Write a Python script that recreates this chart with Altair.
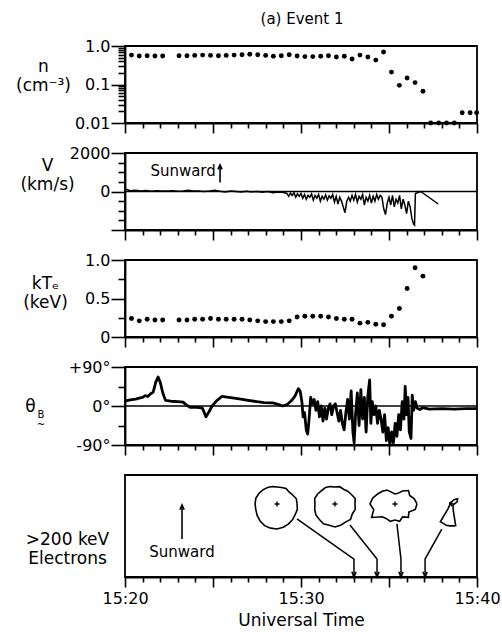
import altair as alt
import pandas as pd
import numpy as np

FONT = "DejaVu Sans"
PLOT_W = 352
PX_PER_MIN = PLOT_W / 20.0
H5 = 102

# ---------------- data (time = minutes after 15:20 UT) ----------------
n_times = [0.37, 0.81, 1.26, 1.70, 2.14,
           3.07, 3.52, 3.96, 4.41, 4.86, 5.31, 5.75, 6.20, 6.65, 7.09,
           7.54, 7.99, 8.43, 8.88, 9.33, 9.78, 10.22, 10.67, 11.12, 11.56,
           12.01, 12.46, 12.90, 13.35, 13.80, 14.25, 14.69, 15.14, 15.59, 16.03,
           16.48, 16.93, 17.37, 17.82, 18.27, 18.71, 19.16, 19.61, 19.98]
n_values = [0.58, 0.55, 0.56, 0.55, 0.55,
            0.56, 0.56, 0.57, 0.58, 0.57, 0.56, 0.57, 0.58, 0.59, 0.61,
            0.59, 0.57, 0.54, 0.56, 0.59, 0.55, 0.53, 0.53, 0.54, 0.56,
            0.52, 0.54, 0.46, 0.58, 0.52, 0.43, 0.70, 0.21, 0.095, 0.148,
            0.112, 0.067, 0.01, 0.01, 0.01, 0.01, 0.0185, 0.0185, 0.0185]

kt_times = n_times[:37]
kt_values = [0.24, 0.21, 0.23, 0.22, 0.22,
             0.22, 0.22, 0.23, 0.23, 0.24, 0.23, 0.23, 0.23, 0.23, 0.22,
             0.21, 0.20, 0.20, 0.20, 0.21, 0.26, 0.27, 0.27, 0.27, 0.26,
             0.24, 0.23, 0.23, 0.18, 0.19, 0.165, 0.16, 0.27, 0.37, 0.63,
             0.90, 0.79]

v_times = [0.05, 0.3, 0.6, 0.9, 1.2, 1.5, 1.8, 2.1, 2.4, 2.7, 3.0, 3.3, 3.6, 3.9,
           4.2, 4.5, 4.8, 5.1, 5.4, 5.7, 6.0, 6.3, 6.6, 6.9, 7.2, 7.5, 7.8, 8.1,
           8.4, 8.7, 9.0,
           9.2, 9.3, 9.4, 9.5, 9.6, 9.7, 9.8, 9.9, 10.0, 10.1, 10.2, 10.3, 10.4,
           10.5, 10.6, 10.7, 10.8, 10.9, 11.0, 11.1, 11.2, 11.3, 11.4, 11.5, 11.6,
           11.7, 11.8, 11.9, 12.0, 12.1, 12.2, 12.3, 12.4, 12.5, 12.6, 12.7, 12.8,
           12.9, 13.0, 13.1, 13.2, 13.3, 13.4, 13.5, 13.6, 13.7, 13.8, 13.9, 14.0,
           14.1, 14.2, 14.3, 14.4, 14.5, 14.6, 14.7, 14.8, 14.9, 15.0, 15.1, 15.2,
           15.3, 15.4, 15.5, 15.6, 15.7, 15.8, 15.9, 16.0, 16.1, 16.2, 16.3, 16.4,
           16.45, 16.5, 16.8, 17.8]
v_values = [120, 40, 60, 20, 50, 10, 40, 30, 20, 40, 10, 30, 60, 20,
            30, 0, 20, 60, 10, -20, 20, 0, -30, 10, -20, 0, -40, 0,
            -60, -20, -50,
            -100, -250, -80, -200, -60, -300, -120, -250, -100, -350, -150, -400, -200,
            -300, -120, -450, -200, -350, -150, -500, -250, -400, -180, -450, -220,
            -350, -150, -550, -250, -650, -300, -500, -800, -1100, -500, -300, -500,
            -200, -450, -150, -550, -250, -400, -150, -700, -300, -500, -200, -600,
            -250, -500, -150, -400, -200, -300, -900, -1200, -600, -300, -700, -200,
            -800, -400, -600, -200, -900, -400, -700, -1150, -500, -800, -1400, -1700,
            -1750, -100, 0, -650]

th_times = [0.05, 0.3, 0.6, 0.8, 1.0, 1.15, 1.3, 1.45, 1.6, 1.75, 1.88, 2.0, 2.15, 2.3,
            2.6, 3.0, 3.3, 3.5, 3.7, 4.1, 4.4, 4.6, 4.75, 4.95, 5.2, 5.5, 5.9, 6.4,
            7.0, 7.5, 7.9, 8.4, 8.7, 8.95, 9.2, 9.45, 9.65, 9.85, 9.95, 10.05, 10.12,
            10.2, 10.3, 10.38, 10.45, 10.55, 10.65, 10.75, 10.85, 10.95, 11.05, 11.15,
            11.25, 11.35, 11.45, 11.55, 11.65, 11.75, 11.85, 11.95, 12.05, 12.15, 12.25,
            12.35, 12.45, 12.55, 12.65, 12.75, 12.85, 12.95, 13.02, 13.1, 13.2, 13.3,
            13.4, 13.5, 13.6, 13.7, 13.8, 13.9, 13.97, 14.05, 14.15, 14.25, 14.35,
            14.45, 14.55, 14.65, 14.75, 14.85, 14.95, 15.05, 15.15, 15.25, 15.35,
            15.45, 15.55, 15.65, 15.75, 15.85, 15.92, 16.0, 16.08, 16.15, 16.25,
            16.32, 16.4, 16.5, 16.6, 16.75, 16.9, 17.3, 18.0, 18.7, 19.4, 20.0]
th_values = [12, 14, 16, 18, 20, 24, 22, 28, 32, 55, 67, 55, 30, 13,
             11, 10, 9, 2, -3, -3, -5, -25, -15, 0, 12, 22, 20, 17,
             13, 10, 8, 7, 4, 0, 3, 12, 22, 40, 35, 10, -25,
             -15, -55, -65, -35, 20, 5, 15, -10, 10, -25, 0,
             -35, -5, -30, -5, 5, -20, 0, 5, -15, -35, -10,
             -40, -55, -15, 15, -30, 35, -60, -85, -20, 30, -45,
             38, -30, 20, -60, 25, 60, -40, 10, -20, 0, -40,
             -10, -30, -60, -20, -80, -50, -90, -60, -85, -40,
             -70, -20, -55, 10, -30, 45, -20, 20, -60, -75,
             25, -10, 10, -5, -8, -4, -7, -6, -7, -6, -6]

# >200 keV electron pitch-angle distributions (polar radii, plot px)
pad_times = [8.64, 11.93, 15.34, 18.55]
pad_level = 0.716
pad_angles = list(range(0, 360, 15))
pad1_r = [20, 20, 18, 17, 18, 17, 17, 18, 19, 20, 21, 22, 22, 22, 23, 24, 25, 25, 25, 24, 23, 22, 21, 21]
pad2_r = [20, 21, 19, 18, 17, 18, 17, 18, 19, 19, 20, 21, 20, 21, 22, 22, 23, 22, 23, 22, 21, 22, 20, 21]
pad3_r = [22, 20, 17, 19, 15, 11, 10, 12, 16, 18, 20, 23, 25, 22, 27, 18, 17, 18, 16, 18, 15, 19, 16, 21]
pad4_angles = [0, 20, 40, 60, 90, 150, 210, 234, 238, 246, 256, 266, 276, 281, 285, 320]
pad4_r = [3, 6, 8, 5, 2, 2, 2, 6, 21, 21, 22, 22, 22, 22, 7, 2]

# arrows linking each distribution to its sampling time
arrow_start_t = [9.77, 12.78, 15.45, 18.0]
arrow_start_y = [0.569, 0.51, 0.52, 0.47]
arrow_knee_y = [0.176, 0.176, 0.176, 0.176]
arrow_tip_t = [13.01, 14.32, 15.68, 17.05]

# ---------------- tables ----------------
df_n = pd.DataFrame({"t": n_times, "v": n_values})
df_kt = pd.DataFrame({"t": kt_times, "v": kt_values})
df_v = pd.DataFrame({"t": v_times, "v": v_values})
df_th = pd.DataFrame({"t": th_times, "v": th_values})
one = pd.DataFrame({"a": [0]})
zero = pd.DataFrame({"v": [0]})

rows = []
for b, (tc, angs, radii) in enumerate([(pad_times[0], pad_angles, pad1_r),
                                       (pad_times[1], pad_angles, pad2_r),
                                       (pad_times[2], pad_angles, pad3_r),
                                       (pad_times[3], pad4_angles, pad4_r)]):
    angs2 = list(angs) + [angs[0]]
    rad2 = list(radii) + [radii[0]]
    for i, (a, r) in enumerate(zip(angs2, rad2)):
        rows.append({"blob": b, "o": i,
                     "t": tc + r * np.cos(np.radians(a)) / PX_PER_MIN,
                     "y": pad_level + r * np.sin(np.radians(a)) / H5})
df_blob = pd.DataFrame(rows)
df_center = pd.DataFrame({"t": pad_times, "y": [pad_level] * 4})

arows = []
for i in range(4):
    arows.append({"arrow": i, "o": 0, "t": arrow_start_t[i], "y": arrow_start_y[i]})
    arows.append({"arrow": i, "o": 1, "t": arrow_tip_t[i], "y": arrow_knee_y[i]})
    arows.append({"arrow": i, "o": 2, "t": arrow_tip_t[i], "y": 0.0})
df_arrow = pd.DataFrame(arows)
df_tips = pd.DataFrame({"t": arrow_tip_t, "y": [0.0] * 4})

# ---------------- axes ----------------
def x_axis(labels):
    kw = dict(values=list(range(0, 21)),
              tickSize={"condition": {"test": "datum.value % 5 === 0", "value": 10}, "value": 5},
              labelFlush=False, grid=False)
    if labels:
        kw.update(labels=True,
                  labelExpr="datum.value == 0 ? '15:20' : datum.value == 10 ? '15:30' : datum.value == 20 ? '15:40' : ''",
                  labelPadding=3, labelFontSize=16, title="Universal Time", titleFontSize=17,
                  titlePadding=6)
    else:
        kw.update(labels=False, title=None)
    return alt.Axis(**kw)

XS = alt.Scale(domain=[0, 20], nice=False, zero=False)

def X(labels=False):
    return alt.X("t:Q", scale=XS, axis=x_axis(labels))

def y_axis(values, major_test, label_expr, title, tx, ty):
    return alt.Axis(values=values,
                    tickSize={"condition": {"test": major_test, "value": 14}, "value": 7},
                    labelExpr=label_expr, labelOverlap=False, labelPadding=1,
                    labelBaseline="middle", labelFontSize=16,
                    title=title, titleAngle=0, titleAlign="center", titleBaseline="alphabetic",
                    titleX=tx, titleY=ty, titleLineHeight=19, titleFontSize=17,
                    titleFontWeight="normal", grid=False)

# ---------------- panel 1: density ----------------
y1 = alt.Y("v:Q", scale=alt.Scale(type="log", domain=[0.01, 1], nice=False),
           axis=y_axis([0.01, 0.02, 0.03, 0.04, 0.05, 0.06, 0.07, 0.08, 0.09, 0.1,
                        0.2, 0.3, 0.4, 0.5, 0.6, 0.7, 0.8, 0.9, 1],
                       "datum.value == 1 || datum.value == 0.1 || datum.value == 0.01",
                       "datum.value == 1 ? '1.0' : datum.value == 0.1 ? '0.1' : datum.value == 0.01 ? '0.01' : ''",
                       ["n", "(cm\u207b\u00b3)"], -82, 25))
p1 = alt.layer(
    alt.Chart(df_n).mark_circle(size=24, color="black", opacity=1).encode(x=X(), y=y1),
    alt.Chart(one).mark_rule(color="white").encode(x=alt.value(-123), x2=alt.value(-121), y=alt.value(-44)),
    alt.Chart(one).mark_text(text="(a) Event 1", font=FONT, fontSize=15, color="black",
                             baseline="alphabetic").encode(x=alt.value(177), y=alt.value(-22)),
).properties(width=PLOT_W, height=77)

# ---------------- panel 2: velocity ----------------
V_SCALE = alt.Scale(domain=[-2000, 2000], nice=False)
y2 = alt.Y("v:Q", scale=V_SCALE,
           axis=y_axis(list(range(-2000, 2001, 500)),
                       "datum.value == 2000 || datum.value == 0 || datum.value == -2000",
                       "datum.value == 2000 ? '2000' : datum.value == 0 ? '0' : ''",
                       ["V", "(km/s)"], -78, 17))
sun2 = pd.DataFrame({"t": [3.3], "v": [1090]})
arr2 = pd.DataFrame({"t": [5.4], "v": [470], "v2": [1380]})
head2 = pd.DataFrame({"t": [5.4], "v": [1380]})
p2 = alt.layer(
    alt.Chart(zero).mark_rule(color="black", strokeWidth=1.6).encode(y=y2),
    alt.Chart(df_v).mark_line(color="black", strokeWidth=1.5).encode(x=X(), y=y2),
    alt.Chart(sun2).mark_text(text="Sunward", font=FONT, fontSize=15, color="black").encode(x=X(), y=y2),
    alt.Chart(arr2).mark_rule(color="black", strokeWidth=1.6).encode(x=X(), y=y2, y2="v2:Q"),
    alt.Chart(head2).mark_point(shape="M-0.45,1L0,0L0.45,1", filled=False, color="black", size=80,
                                strokeWidth=1.6, opacity=1).encode(x=X(), y=y2),
).properties(width=PLOT_W, height=77)

# ---------------- panel 3: electron temperature ----------------
y3 = alt.Y("v:Q", scale=alt.Scale(domain=[0, 1], nice=False),
           axis=y_axis([0, 0.25, 0.5, 0.75, 1],
                       "datum.value == 0 || datum.value == 0.5 || datum.value == 1",
                       "datum.value == 1 ? '1.0' : datum.value == 0.5 ? '0.5' : datum.value == 0 ? '0' : ''",
                       ["kT\u2091", "(keV)"], -80, 28))
p3 = alt.layer(
    alt.Chart(df_kt).mark_circle(size=24, color="black", opacity=1).encode(x=X(), y=y3),
).properties(width=PLOT_W, height=77)

# ---------------- panel 4: field angle ----------------
y4 = alt.Y("v:Q", scale=alt.Scale(domain=[-90, 90], nice=False),
           axis=y_axis([-90, -45, 0, 45, 90],
                       "datum.value == 0 || datum.value == 90 || datum.value == -90",
                       "datum.value == 90 ? '+90\u00b0' : datum.value == 0 ? '0\u00b0' : datum.value == -90 ? '-90\u00b0' : ''",
                       "\u03b8", -95, 44))
p4 = alt.layer(
    alt.Chart(zero).mark_rule(color="black", strokeWidth=1.6).encode(y=y4),
    alt.Chart(df_th).mark_line(color="black", strokeWidth=2.8, strokeJoin="round").encode(x=X(), y=y4),
    alt.Chart(one).mark_text(text="B", font=FONT, fontSize=10, color="black").encode(x=alt.value(-84), y=alt.value(48)),
    alt.Chart(one).mark_text(text="~", font=FONT, fontSize=10, color="black").encode(x=alt.value(-84), y=alt.value(58)),
).properties(width=PLOT_W, height=78)

# ---------------- panel 5: >200 keV electrons ----------------
Y5_SCALE = alt.Scale(domain=[0, 1], nice=False)
Y5 = alt.Y("y:Q", scale=Y5_SCALE,
           axis=alt.Axis(values=[0], labels=False, ticks=False, domain=False,
                         title=[">200 keV", "Electrons"], titleAngle=0, titleAlign="center",
                         titleBaseline="alphabetic", titleX=-58, titleY=69, titleLineHeight=19,
                         titleFontSize=17, titleFontWeight="normal"))
sun5 = pd.DataFrame({"t": [3.24], "y": [0.245]})
arr5 = pd.DataFrame({"t": [3.24], "y": [0.373], "y2": [0.706]})
head5 = pd.DataFrame({"t": [3.24], "y": [0.706]})
p5 = alt.layer(
    alt.Chart(df_blob).mark_line(color="black", strokeWidth=1.6).encode(x=X(True), y=Y5, detail="blob:N", order="o:Q"),
    alt.Chart(df_center).mark_point(shape="M-1,0L1,0M0,-1L0,1", filled=False, color="black", size=25,
                                    strokeWidth=1.4, opacity=1).encode(x=X(True), y=Y5),
    alt.Chart(df_arrow).mark_line(color="black", strokeWidth=1.5).encode(x=X(True), y=Y5, detail="arrow:N", order="o:Q"),
    alt.Chart(df_tips).mark_point(shape="M-0.4,-1L0,0L0.4,-1", filled=False, color="black", size=110,
                                  strokeWidth=1.6, opacity=1).encode(x=X(True), y=Y5),
    alt.Chart(arr5).mark_rule(color="black", strokeWidth=1.6).encode(x=X(True), y=Y5, y2="y2:Q"),
    alt.Chart(head5).mark_point(shape="M-0.45,1L0,0L0.45,1", filled=False, color="black", size=90,
                                strokeWidth=1.6, opacity=1).encode(x=X(True), y=Y5),
    alt.Chart(sun5).mark_text(text="Sunward", font=FONT, fontSize=15, color="black").encode(x=X(True), y=Y5),
).properties(width=PLOT_W, height=H5)

chart = alt.VConcatChart(vconcat=[p1, p2, p3, p4, p5], spacing=30, bounds="flush").properties(
    padding={"left": 0, "top": 0, "right": 0, "bottom": 0}
).configure_view(stroke="black", strokeWidth=1.8).configure_axis(
    domainColor="black", domainWidth=1.8, tickColor="black", tickWidth=1.6,
    labelFont=FONT, labelFontSize=16, labelColor="black",
    titleFont=FONT, titleFontSize=17, titleColor="black", titleFontWeight="normal"
)

chart.save("out.html", embed_options={"renderer": "svg", "actions": False})
